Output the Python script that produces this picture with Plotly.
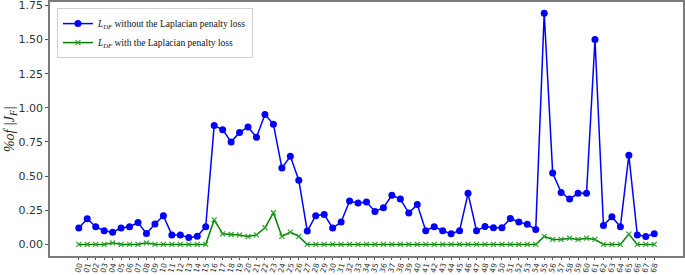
import plotly.graph_objects as go

labels = [f"{i:02d}" for i in range(69)]

without_lap = [0.12, 0.188, 0.13, 0.10, 0.09, 0.12, 0.13, 0.16, 0.08, 0.15,
               0.21, 0.07, 0.07, 0.05, 0.06, 0.13, 0.87, 0.84, 0.75, 0.82,
               0.86, 0.784, 0.952, 0.88, 0.56, 0.645, 0.47, 0.098, 0.21, 0.22,
               0.12, 0.164, 0.318, 0.303, 0.31, 0.242, 0.269, 0.36, 0.332, 0.23,
               0.293, 0.10, 0.13, 0.10, 0.078, 0.10, 0.374, 0.10, 0.132, 0.122,
               0.122, 0.19, 0.164, 0.147, 0.11, 1.693, 0.523, 0.381, 0.332, 0.374,
               0.374, 1.50, 0.139, 0.203, 0.13, 0.652, 0.07, 0.059, 0.078]

with_lap = [0, 0, 0, 0, 0.012, 0, 0, 0, 0.012, 0,
            0, 0, 0, 0, 0, 0, 0.18, 0.078, 0.073, 0.07,
            0.059, 0.07, 0.122, 0.232, 0.059, 0.09, 0.059, 0, 0, 0,
            0, 0, 0, 0, 0, 0, 0, 0, 0, 0,
            0, 0, 0, 0, 0, 0, 0, 0, 0, 0,
            0, 0, 0, 0, 0, 0.059, 0.037, 0.037, 0.046, 0.037,
            0.046, 0.037, 0, 0, 0, 0.076, 0, 0, 0]

y_ticks = [0.00, 0.25, 0.50, 0.75, 1.00, 1.25, 1.50, 1.75]

x = list(range(len(labels)))

fig = go.Figure()
fig.add_trace(go.Scatter(
    x=x, y=without_lap, mode="lines+markers",
    name="<i>L</i><sub><i>DF</i></sub> without the Laplacian penalty loss",
    line=dict(color="#0000ff", width=1.5),
    marker=dict(color="#0000ff", size=7, symbol="circle"),
))
fig.add_trace(go.Scatter(
    x=x, y=with_lap, mode="lines+markers",
    name="<i>L</i><sub><i>DF</i></sub> with the Laplacian penalty loss",
    line=dict(color="#008000", width=1.5),
    marker=dict(color="#2ca02c", size=5, symbol="x-thin", line=dict(color="#2ca02c", width=1.2)),
))

fig.update_layout(
    width=685, height=275,
    margin=dict(l=50, r=2, t=2, b=19),
    paper_bgcolor="white", plot_bgcolor="white",
    showlegend=True,
    legend=dict(
        x=0.011, y=0.976, xanchor="left", yanchor="top",
        bgcolor="white", bordercolor="#d0d0d0", borderwidth=1,
        font=dict(family="Liberation Serif", size=9.5, color="#111"),
        itemwidth=30, tracegroupgap=0,
    ),
    xaxis=dict(
        range=[-3.4, 71.4], tickmode="array", tickvals=x, ticktext=labels,
        tickangle=-75, tickfont=dict(family="DejaVu Sans", size=7.5, color="#333"),
        showgrid=False, zeroline=False, automargin=False,
        showline=True, linecolor="#7a7a7a", linewidth=1.5, mirror=True,
        ticks="outside", ticklen=2, tickcolor="#555",
        ticklabelstandoff=-2,
    ),
    yaxis=dict(
        range=[-0.0845, 1.7745], tickmode="array", tickvals=y_ticks,
        ticktext=[f"{v:.2f}" for v in y_ticks],
        tickfont=dict(family="DejaVu Sans", size=11, color="#333"),
        showgrid=False, zeroline=False, automargin=False,
        showline=True, linecolor="#7a7a7a", linewidth=1.5, mirror=True,
        ticks="outside", ticklen=3, tickcolor="#555",
        ticklabeloverflow="allow",
    ),
    annotations=[dict(
        text="<i>%of |J</i><sub><i>F</i></sub><i>|</i>",
        xref="paper", yref="paper", x=-0.063, y=0.5,
        xanchor="center", yanchor="middle", textangle=-90, showarrow=False,
        font=dict(family="Liberation Serif", size=14, color="#222"),
    )],
)

fig.write_html("out.html", config={"displayModeBar": False},
               post_script="document.body.style.margin='0';")
